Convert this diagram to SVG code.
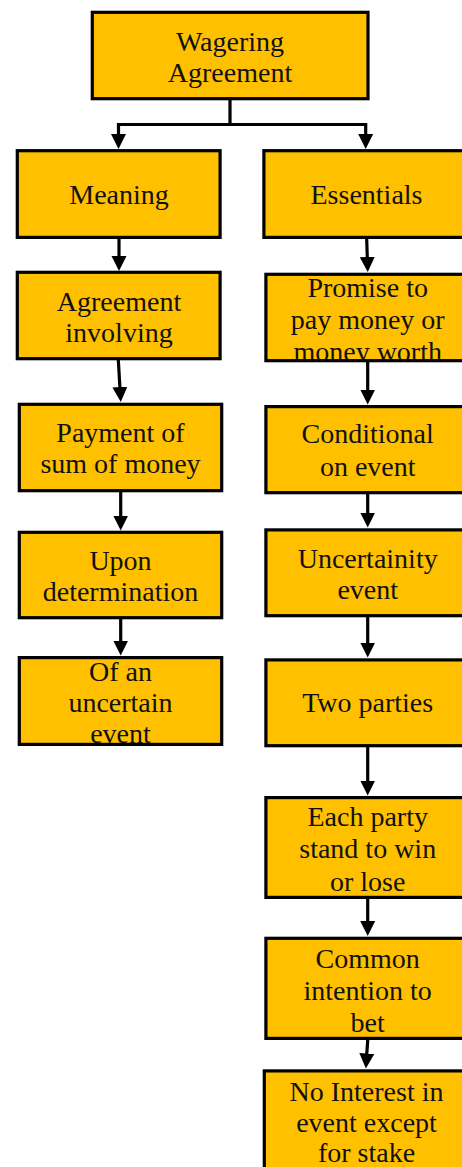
<svg xmlns="http://www.w3.org/2000/svg" width="462" height="1167" viewBox="0 0 462 1167">
  <style>
    .box { fill: #FFC000; stroke: #000; stroke-width: 3.2; }
    .lbl { font-family: "Liberation Serif", "Times New Roman", serif; font-size: 28px; fill: #111; text-anchor: middle; }
    .conn { fill: none; stroke: #000; stroke-width: 3.2; stroke-linecap: butt; stroke-linejoin: miter; }
  </style>
  <defs>
    <marker id="arrow" markerUnits="userSpaceOnUse" markerWidth="16" markerHeight="16" viewBox="0 0 16 16" refX="10" refY="8" orient="auto">
      <path d="M0,0.5 L15,8 L0,15.5 z" fill="#000"/>
    </marker>
    <clipPath id="clip-promise"><rect x="265.9" y="274.3" width="200" height="86.4"/></clipPath>
    <clipPath id="clip-ofan"><rect x="20.9" y="657.6" width="200" height="86.8"/></clipPath>
  </defs>

  <rect width="462" height="1167" fill="#fff"/>

  <!-- connectors -->
  <g id="connectors">
    <path class="conn" d="M230,99 V124.5 H118.5 V144" marker-end="url(#arrow)"/>
    <path class="conn" d="M229,124.5 H365.7 V144" marker-end="url(#arrow)"/>
    <path class="conn" d="M119,239 V266" marker-end="url(#arrow)"/>
    <path class="conn" d="M118.3,360 L120.5,397" marker-end="url(#arrow)"/>
    <path class="conn" d="M120.7,492 V525.5" marker-end="url(#arrow)"/>
    <path class="conn" d="M120.7,619 V650.5" marker-end="url(#arrow)"/>
    <path class="conn" d="M366.7,239 L367.6,267" marker-end="url(#arrow)"/>
    <path class="conn" d="M367.7,362 V399.5" marker-end="url(#arrow)"/>
    <path class="conn" d="M367.7,494 V522.5" marker-end="url(#arrow)"/>
    <path class="conn" d="M367.7,617 V652.5" marker-end="url(#arrow)"/>
    <path class="conn" d="M367.7,747 V790.5" marker-end="url(#arrow)"/>
    <path class="conn" d="M367.7,899 V931" marker-end="url(#arrow)"/>
    <path class="conn" d="M367.7,1040 L366.2,1063.5" marker-end="url(#arrow)"/>
  </g>

  <!-- root -->
  <g id="wagering-agreement">
    <rect class="box" x="92.3" y="12.3" width="275.7" height="86.4"/>
    <text class="lbl" x="230" y="51">Wagering</text>
    <text class="lbl" x="230" y="82">Agreement</text>
  </g>

  <!-- meaning column -->
  <g id="meaning">
    <rect class="box" x="17.3" y="150.7" width="202.8" height="86.7"/>
    <text class="lbl" x="119" y="204">Meaning</text>
  </g>
  <g id="agreement-involving">
    <rect class="box" x="17.3" y="272.3" width="202.8" height="86.4"/>
    <text class="lbl" x="119" y="310.5">Agreement</text>
    <text class="lbl" x="119" y="342">involving</text>
  </g>
  <g id="payment">
    <rect class="box" x="19.3" y="404.3" width="202.4" height="86.4"/>
    <text class="lbl" x="120.5" y="441.7">Payment of</text>
    <text class="lbl" x="120.5" y="472.7">sum of money</text>
  </g>
  <g id="upon-determination">
    <rect class="box" x="19.3" y="532.3" width="202.4" height="85.4"/>
    <text class="lbl" x="120.5" y="570">Upon</text>
    <text class="lbl" x="120.5" y="600.5">determination</text>
  </g>
  <g id="uncertain-event">
    <rect class="box" x="19.3" y="657.6" width="202.4" height="86.8"/>
    <g clip-path="url(#clip-ofan)">
      <text class="lbl" x="120.5" y="680.5">Of an</text>
      <text class="lbl" x="120.5" y="711.5">uncertain</text>
      <text class="lbl" x="120.5" y="743">event</text>
    </g>
  </g>

  <!-- essentials column -->
  <g id="essentials">
    <rect class="box" x="263.9" y="150.7" width="206" height="86.7"/>
    <text class="lbl" x="366.5" y="204">Essentials</text>
  </g>
  <g id="promise">
    <rect class="box" x="265.9" y="274.3" width="204" height="86.4"/>
    <g clip-path="url(#clip-promise)">
      <text class="lbl" x="367.7" y="297">Promise to</text>
      <text class="lbl" x="367.7" y="329">pay money or</text>
      <text class="lbl" x="367.7" y="360.5">money worth</text>
    </g>
  </g>
  <g id="conditional">
    <rect class="box" x="265.9" y="406.6" width="204" height="86.1"/>
    <text class="lbl" x="367.7" y="443">Conditional</text>
    <text class="lbl" x="367.7" y="475.5">on event</text>
  </g>
  <g id="uncertainity">
    <rect class="box" x="265.9" y="529.9" width="204" height="85.8"/>
    <text class="lbl" x="367.7" y="568">Uncertainity</text>
    <text class="lbl" x="367.7" y="599">event</text>
  </g>
  <g id="two-parties">
    <rect class="box" x="265.9" y="659.9" width="204" height="85.8"/>
    <text class="lbl" x="367.7" y="712">Two parties</text>
  </g>
  <g id="each-party">
    <rect class="box" x="265.9" y="797.6" width="204" height="99.8"/>
    <text class="lbl" x="367.7" y="826">Each party</text>
    <text class="lbl" x="367.7" y="858">stand to win</text>
    <text class="lbl" x="367.7" y="890.5">or lose</text>
  </g>
  <g id="common-intention">
    <rect class="box" x="265.9" y="938.3" width="204" height="100.1"/>
    <text class="lbl" x="367.7" y="968">Common</text>
    <text class="lbl" x="367.7" y="999.5">intention to</text>
    <text class="lbl" x="367.7" y="1031.5">bet</text>
  </g>
  <g id="no-interest">
    <rect class="box" x="264.3" y="1070.9" width="206" height="110"/>
    <text class="lbl" x="366.5" y="1100.5">No Interest in</text>
    <text class="lbl" x="366.5" y="1132">event except</text>
    <text class="lbl" x="366.5" y="1162">for stake</text>
  </g>
</svg>
